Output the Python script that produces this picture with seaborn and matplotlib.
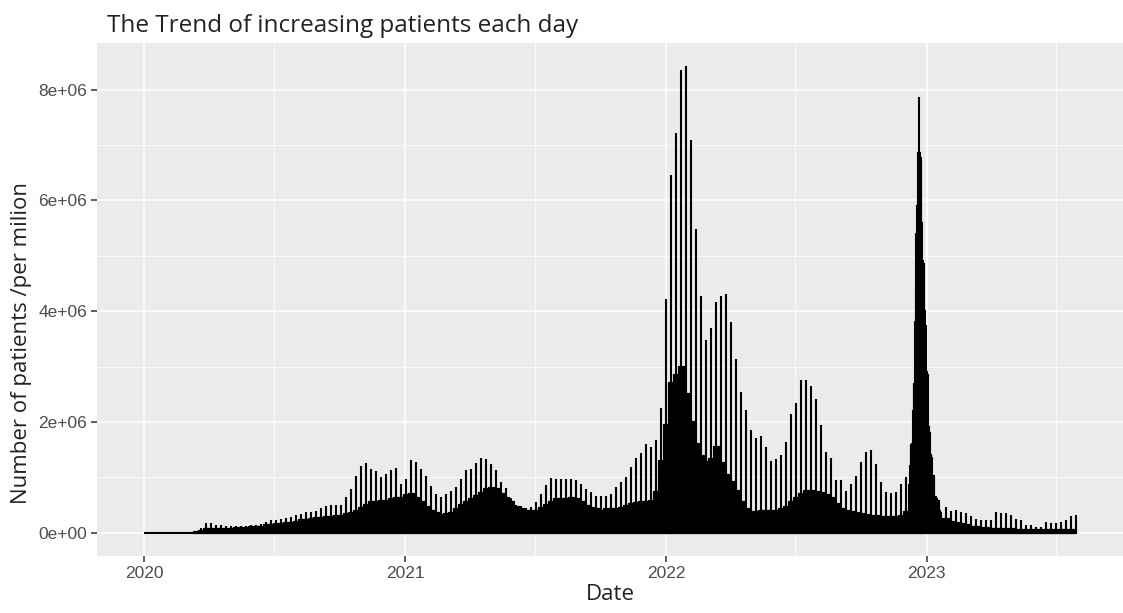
import numpy as np
import pandas as pd
import matplotlib
matplotlib.use("Agg")
import matplotlib.pyplot as plt
import matplotlib.dates as mdates
from matplotlib.ticker import FuncFormatter, MultipleLocator
import seaborn as sns

# ---------------- data (millions of patients) ----------------
start_date = "2020-01-01"

# weeks 0..152 : daily level of the week and the one weekly reporting spike
wk_base_a = [
    0, 0, 0, 0, 0, 0, 0, 0, 0, 0, 0.01,
    0.03, 0.06, 0.07, 0.07, 0.07, 0.07, 0.07, 0.08, 0.08, 0.09,
    0.10, 0.10, 0.11, 0.13, 0.14, 0.15, 0.16, 0.17, 0.18, 0.20,
    0.22, 0.23, 0.25, 0.26, 0.27, 0.28, 0.29, 0.30, 0.31, 0.33,
    0.36, 0.40, 0.45, 0.50, 0.55, 0.56, 0.57, 0.58, 0.60, 0.63,
    0.62, 0.68, 0.70, 0.62, 0.55, 0.47, 0.40, 0.35, 0.32, 0.33,
    0.36, 0.42, 0.50, 0.55, 0.60, 0.66, 0.72, 0.78, 0.80, 0.78,
    0.70, 0.62, 0.55, 0.47, 0.42, 0.39, 0.39, 0.40, 0.45, 0.50,
    0.56, 0.60, 0.60, 0.61, 0.62, 0.60, 0.55, 0.48, 0.45, 0.42,
    0.40, 0.42, 0.42, 0.43, 0.45, 0.48, 0.51, 0.53, 0.55, 0.56,
    0.58, 0.74, 1.30, 1.95, 2.70, 2.85, 3.00, 2.50, 2.00, 1.60,
    1.38, 1.28, 1.33, 1.55, 1.25, 1.05, 0.92, 0.75, 0.56, 0.43,
    0.38, 0.38, 0.40, 0.40, 0.40, 0.40, 0.42, 0.46, 0.55, 0.62,
    0.70, 0.75, 0.76, 0.74, 0.72, 0.68, 0.62, 0.52, 0.42, 0.40,
    0.38, 0.36, 0.34, 0.32, 0.30, 0.30, 0.29, 0.28, 0.28, 0.28,
    0.30, 0.38,
]
wk_spike_a = [
    0, 0, 0, 0, 0, 0, 0, 0, 0, 0, 0.01,
    0.085, 0.175, 0.175, 0.144, 0.13, 0.114, 0.114, 0.12, 0.12, 0.125,
    0.144, 0.144, 0.16, 0.20, 0.22, 0.235, 0.25, 0.27, 0.29, 0.32,
    0.34, 0.37, 0.37, 0.40, 0.45, 0.48, 0.505, 0.505, 0.505, 0.64,
    0.78, 1.03, 1.21, 1.25, 1.155, 1.11, 1.00, 1.06, 1.125, 1.16,
    0.88, 0.975, 1.305, 1.27, 1.155, 1.03, 0.84, 0.70, 0.645, 0.70,
    0.745, 0.82, 0.97, 1.125, 1.15, 1.26, 1.35, 1.33, 1.24, 1.125,
    0.91, 0.81, 0.62, 0.505, 0.475, 0.445, 0.46, 0.55, 0.69, 0.86,
    0.99, 0.97, 0.97, 0.97, 0.97, 0.945, 0.885, 0.79, 0.73, 0.67,
    0.655, 0.67, 0.70, 0.82, 0.91, 1.00, 1.185, 1.35, 1.44, 1.60,
    1.545, 1.68, 2.25, 4.22, 6.46, 7.21, 8.36, 8.42, 7.09, 5.49,
    4.28, 3.48, 3.69, 4.16, 4.27, 4.31, 3.81, 3.13, 2.54, 2.22,
    1.86, 1.71, 1.75, 1.54, 1.29, 1.33, 1.41, 1.63, 2.14, 2.34,
    2.75, 2.75, 2.64, 2.41, 1.95, 1.45, 1.34, 0.945, 0.945, 0.76,
    0.87, 1.02, 1.27, 1.45, 1.49, 1.245, 0.92, 0.73, 0.715, 0.74,
    0.885, 1.00,
]

# weeks 153..159 : daily values around the Dec 2022 wave
peak_daily = [
    0.45, 0.86, 1.20, 1.58, 1.58, 1.60, 2.20,
    2.68, 2.68, 3.80, 4.40, 5.40, 5.90, 6.85,
    7.86, 6.85, 6.76, 6.72, 5.60, 4.90, 4.85,
    4.84, 4.00, 3.74, 3.00, 2.90, 2.85, 1.90,
    1.87, 1.80, 1.40, 1.40, 1.35, 1.03, 1.03,
    1.00, 0.64, 0.64, 0.62, 0.60, 0.58, 0.58,
    0.50, 0.40, 0.35, 0.30, 0.25, 0.22, 0.20,
]

# weeks 160..186
wk_base_b = [
    0.25, 0.20, 0.17, 0.15, 0.13, 0.11, 0.10, 0.09, 0.08, 0.07,
    0.07, 0.07, 0.06, 0.06, 0.05, 0.05, 0.04, 0.04, 0.04, 0.04,
    0.04, 0.04, 0.04, 0.04, 0.04, 0.04, 0.04,
]
wk_spike_b = [
    0.46, 0.40, 0.415, 0.37, 0.355, 0.31, 0.25, 0.22, 0.235, 0.235,
    0.37, 0.355, 0.355, 0.32, 0.25, 0.235, 0.145, 0.13, 0.10, 0.10,
    0.19, 0.175, 0.175, 0.19, 0.235, 0.295, 0.325,
]

title_text = "The Trend of increasing patients each day"
x_label = "Date"
y_label = "Number of patients /per milion"

# ---------------- build daily table ----------------
def weeks_to_days(base, spike):
    out = []
    for b, s in zip(base, spike):
        out.extend([b, b, b, s, b, b, b])
    return out

daily = weeks_to_days(wk_base_a, wk_spike_a) + list(peak_daily) \
    + weeks_to_days(wk_base_b, wk_spike_b)
daily = daily[: 7 * 186 + 4]
dates = pd.date_range(start_date, periods=len(daily), freq="D")
df = pd.DataFrame({"date": dates, "patients": np.array(daily) * 1e6})
df["dnum"] = mdates.date2num(df["date"])

# ---------------- style ----------------
sns.set_theme(style="darkgrid", rc={
    "axes.facecolor": "#EBEBEB",
    "grid.color": "white",
    "axes.edgecolor": "#EBEBEB",
    "xtick.bottom": True,
    "ytick.left": True,
    "xtick.color": "#333333",
    "ytick.color": "#333333",
    "xtick.major.size": 4,
    "ytick.major.size": 4,
    "xtick.major.width": 1.1,
    "ytick.major.width": 1.1,
    "xtick.minor.size": 0,
    "ytick.minor.size": 0,
})
plt.rcParams["font.family"] = ["Liberation Sans", "DejaVu Sans"]

W, H = 1123, 613
fig = plt.figure(figsize=(W / 100, H / 100), dpi=100)
pl, pr, pt, pb = 97, 1123, 43, 556
ax = fig.add_axes([pl / W, 1 - pb / H, (pr - pl) / W, (pb - pt) / H])

sns.histplot(data=df, x="dnum", weights="patients", discrete=True,
             shrink=0.9, color="black", edgecolor="black", linewidth=1.5,
             alpha=1, ax=ax)

for s in ax.spines.values():
    s.set_visible(False)

d0 = df["dnum"].min() - 0.45
d1 = df["dnum"].max() + 0.45
span = d1 - d0
ax.set_xlim(d0 - 0.05 * span, d1 + 0.05 * span)
ymax = df["patients"].max()
ax.set_ylim(-0.05 * ymax, 1.05 * ymax)

ax.xaxis.set_major_locator(mdates.YearLocator())
ax.xaxis.set_major_formatter(mdates.DateFormatter("%Y"))
ax.xaxis.set_minor_locator(mdates.MonthLocator(bymonth=7))
ax.yaxis.set_major_locator(MultipleLocator(2e6))
ax.yaxis.set_minor_locator(MultipleLocator(1e6))
ax.yaxis.set_major_formatter(FuncFormatter(lambda v, p: f"{v:.0e}"))

ax.grid(which="major", color="white", linewidth=1.1)
ax.grid(which="minor", color="white", linewidth=0.55)
ax.set_axisbelow(True)

ax.tick_params(axis="both", labelsize=12.5, labelcolor="#4D4D4D", pad=3)

lab_font = ["Open Sans", "DejaVu Sans"]
ax.set_xlabel(x_label, fontsize=16, family=lab_font, color="#222222",
              labelpad=2)
ax.set_ylabel(y_label, fontsize=16, family=lab_font, color="#222222")
ax.yaxis.set_label_coords(-(97 - 22) / (pr - pl), (pb - 343) / (pb - pt))
ax.yaxis.label.set_va("center")

fig.text(107 / W, 1 - 31.5 / H, title_text, fontsize=17.5, family=lab_font,
         color="#222222", ha="left", va="baseline")

fig.savefig("out.png", dpi=100)
